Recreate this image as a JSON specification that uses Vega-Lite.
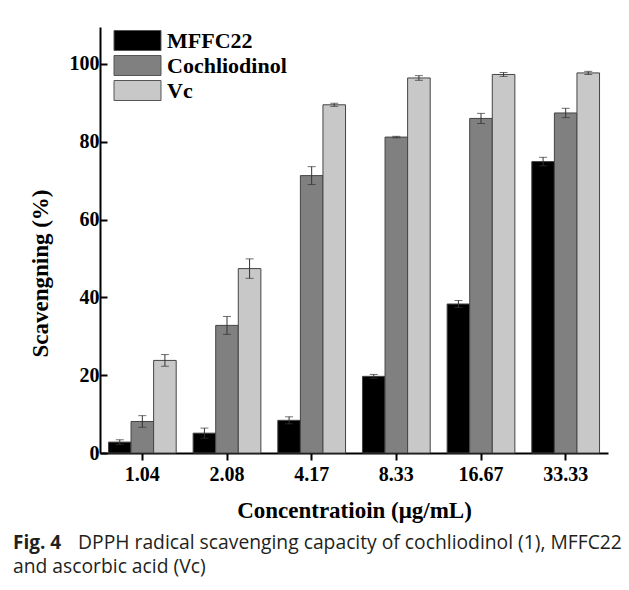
{
  "$schema": "https://vega.github.io/schema/vega-lite/v6.json",
  "width": 508,
  "height": 426,
  "autosize": {"type": "none"},
  "padding": {"left": 100, "top": 27, "right": 21, "bottom": 137},
  "background": "white",
  "config": {"view": {"stroke": null}, "font": "Liberation Serif"},
  "title": {
    "text": "Fig. 4",
    "subtitle": ["\u200b\u00a0\u00a0\u00a0\u00a0\u00a0\u00a0\u00a0\u00a0\u00a0\u00a0\u00a0\u00a0\u00a0DPPH radical scavenging capacity of cochliodinol (1), MFFC22", "and ascorbic acid (Vc)"],
    "orient": "bottom",
    "anchor": "start",
    "frame": "group",
    "dx": -87,
    "offset": 12,
    "font": "Open Sans",
    "fontSize": 19,
    "fontWeight": "bold",
    "color": "#231f20",
    "subtitleFont": "Open Sans",
    "subtitleFontSize": 19.3,
    "subtitleColor": "#231f20",
    "subtitlePadding": -19,
    "subtitleLineHeight": 24
  },
  "data": {
    "values": [
      {"conc": "1.04", "series": "MFFC22", "value": 2.8, "lo": 2.2, "hi": 3.4},
      {"conc": "1.04", "series": "Cochliodinol", "value": 8.1, "lo": 6.6, "hi": 9.6},
      {"conc": "1.04", "series": "Vc", "value": 23.8, "lo": 22.3, "hi": 25.3},
      {"conc": "2.08", "series": "MFFC22", "value": 5.1, "lo": 3.8, "hi": 6.4},
      {"conc": "2.08", "series": "Cochliodinol", "value": 32.8, "lo": 30.5, "hi": 35.1},
      {"conc": "2.08", "series": "Vc", "value": 47.4, "lo": 44.9, "hi": 49.9},
      {"conc": "4.17", "series": "MFFC22", "value": 8.4, "lo": 7.5, "hi": 9.3},
      {"conc": "4.17", "series": "Cochliodinol", "value": 71.3, "lo": 69.0, "hi": 73.6},
      {"conc": "4.17", "series": "Vc", "value": 89.5, "lo": 89.1, "hi": 89.9},
      {"conc": "8.33", "series": "MFFC22", "value": 19.7, "lo": 19.2, "hi": 20.2},
      {"conc": "8.33", "series": "Cochliodinol", "value": 81.2, "lo": 81.0, "hi": 81.4},
      {"conc": "8.33", "series": "Vc", "value": 96.4, "lo": 95.8, "hi": 97.0},
      {"conc": "16.67", "series": "MFFC22", "value": 38.3, "lo": 37.4, "hi": 39.2},
      {"conc": "16.67", "series": "Cochliodinol", "value": 86.0, "lo": 84.7, "hi": 87.3},
      {"conc": "16.67", "series": "Vc", "value": 97.3, "lo": 96.8, "hi": 97.8},
      {"conc": "33.33", "series": "MFFC22", "value": 74.9, "lo": 73.8, "hi": 76.0},
      {"conc": "33.33", "series": "Cochliodinol", "value": 87.4, "lo": 86.2, "hi": 88.6},
      {"conc": "33.33", "series": "Vc", "value": 97.7, "lo": 97.3, "hi": 98.1}
    ]
  },
  "encoding": {
    "x": {
      "field": "conc",
      "type": "nominal",
      "sort": ["1.04", "2.08", "4.17", "8.33", "16.67", "33.33"],
      "scale": {"paddingInner": 0.2, "paddingOuter": 0.1},
      "axis": {
        "labelAngle": 0,
        "domainWidth": 2,
        "domainColor": "black",
        "tickWidth": 2,
        "tickSize": 7,
        "tickColor": "black",
        "labelFont": "Liberation Serif",
        "labelFontWeight": "bold",
        "labelFontSize": 20,
        "labelColor": "black",
        "labelPadding": 4,
        "title": "Concentratioin (μg/mL)",
        "titleFont": "Liberation Serif",
        "titleFontSize": 23,
        "titleFontWeight": "bold",
        "titleColor": "black",
        "titleY": 64,
        "titleBaseline": "alphabetic"
      }
    },
    "xOffset": {
      "field": "series",
      "type": "nominal",
      "sort": ["MFFC22", "Cochliodinol", "Vc"],
      "scale": {"paddingInner": 0, "paddingOuter": 0}
    }
  },
  "layer": [
    {
      "mark": {"type": "bar", "stroke": "#444444", "strokeWidth": 1},
      "encoding": {
        "y": {
          "field": "value",
          "type": "quantitative",
          "title": "Scavengning (%)",
          "scale": {"domain": [0, 109.5], "nice": false, "zero": true},
          "axis": {
            "values": [0, 20, 40, 60, 80, 100],
            "grid": false,
            "domainWidth": 2,
            "domainColor": "black",
            "tickWidth": 2,
            "tickSize": -7,
            "tickColor": "black",
            "labelFont": "Liberation Serif",
            "labelFontWeight": "bold",
            "labelFontSize": 20,
            "labelColor": "black",
            "labelPadding": 8,
            "titleFont": "Liberation Serif",
            "titleFontSize": 23,
            "titleFontWeight": "bold",
            "titleColor": "black",
            "titleX": -53,
            "titleY": 246,
            "titleAngle": 270,
            "titleBaseline": "alphabetic"
          }
        },
        "fill": {
          "field": "series",
          "type": "nominal",
          "sort": ["MFFC22", "Cochliodinol", "Vc"],
          "scale": {"domain": ["MFFC22", "Cochliodinol", "Vc"], "range": ["#000000", "#808080", "#c8c8c8"]},
          "legend": {
            "orient": "none",
            "legendX": 25,
            "legendY": 1,
            "title": null,
            "symbolType": "M-2,-0.85H2V0.85H-2Z",
            "symbolSize": 552,
            "symbolStrokeColor": "#555555",
            "symbolStrokeWidth": 1,
            "symbolOpacity": 1,
            "labelFont": "Liberation Serif",
            "labelFontWeight": "bold",
            "labelFontSize": 22,
            "labelColor": "black",
            "labelOffset": 17,
            "rowPadding": -1
          }
        }
      }
    },
    {
      "mark": {"type": "rule", "color": "#333333", "strokeWidth": 1},
      "encoding": {
        "y": {"field": "lo", "type": "quantitative", "title": "Scavengning (%)"},
        "y2": {"field": "hi"}
      }
    },
    {
      "mark": {"type": "tick", "color": "#333333", "thickness": 1, "size": 8},
      "encoding": {
        "y": {"field": "lo", "type": "quantitative", "title": "Scavengning (%)"}
      }
    },
    {
      "mark": {"type": "tick", "color": "#333333", "thickness": 1, "size": 8},
      "encoding": {
        "y": {"field": "hi", "type": "quantitative", "title": "Scavengning (%)"}
      }
    }
  ]
}
